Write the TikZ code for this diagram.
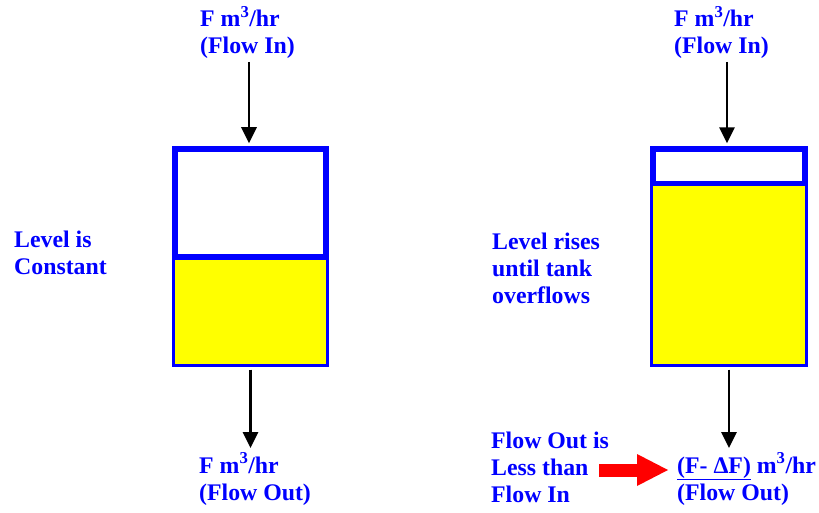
\documentclass[tikz,border=0pt]{standalone}
\usepackage{fontspec}
\setmainfont{Liberation Serif}
\usetikzlibrary{arrows.meta}
\definecolor{pblue}{RGB}{0,0,255}
\definecolor{pyellow}{RGB}{255,255,0}
\definecolor{pred}{RGB}{255,0,0}
\tikzset{
  lbl/.style={text=pblue, font=\bfseries\fontsize{23.8}{27}\selectfont, align=left, inner sep=0pt, anchor=base west},
  tank/.style={draw=pblue, line width=5.8pt, rectangle, inner sep=0pt, minimum width=151.6pt, minimum height=214.7pt},
  tankline/.style={draw=pblue, line width=5.8pt},
  liquid/.style={fill=pyellow},
  flow/.style={draw=black, line width=2.8pt, -{Triangle[width=15pt,length=16pt]}},
  bigarrow/.style={draw=pred, line width=13pt, -{Triangle[width=32pt,length=31pt,line width=0pt]}}
}
\begin{document}
\begin{tikzpicture}[x=1pt,y=1pt]
\useasboundingbox (0,0) rectangle (819,512);
% tanks
\node[tank] (t1) at (250.5,255.65) {};
\node[tank] (t2) at (729,255.5) {};
\coordinate (lv1) at (0,255.3);
\coordinate (lv2) at (0,328.5);
\fill[liquid] ([xshift=2.9pt,yshift=2.9pt]t1.south west) rectangle ([xshift=-2.9pt]t1.east |- lv1);
\fill[liquid] ([xshift=2.9pt,yshift=2.9pt]t2.south west) rectangle ([xshift=-2.9pt]t2.east |- lv2);
\draw[tankline] (t1.west |- lv1) -- (t1.east |- lv1);
\draw[tankline] (t2.west |- lv2) -- (t2.east |- lv2);
% labels (base anchor = baseline of last line)
\node[lbl] (fin1) at (200,458) {F m\textsuperscript{3}/hr\\(Flow In)};
\node[lbl] (fin2) at (674,458) {F m\textsuperscript{3}/hr\\(Flow In)};
\node[lbl] (fout1) at (199,12) {F m\textsuperscript{3}/hr\\(Flow Out)};
\node[lbl] (fout2) at (677,12) {\underline{(F- ΔF)} m\textsuperscript{3}/hr\\(Flow Out)};
\node[lbl] (lvl1) at (14,237) {Level is\\Constant};
\node[lbl] (lvl2) at (492,209) {Level rises\\until tank\\overflows};
\node[lbl] (less) at (491,10) {Flow Out is\\Less than\\Flow In};
% flow arrows
\coordinate (in1) at (249,450);
\coordinate (in2) at (727,450);
\coordinate (out1) at (0,64);
\draw[flow, shorten >=2.9pt] (in1) -- (in1 |- t1.north);
\draw[flow, shorten >=2.9pt] (in2) -- (in2 |- t2.north);
\draw[flow, shorten <=2.9pt] (t1.south) -- (t1.south |- out1);
\draw[flow, shorten <=2.9pt] (t2.south) -- (t2.south |- out1);
% red arrow
\coordinate (ra) at (599,42);
\coordinate (rb) at (668,42);
\draw[bigarrow] (ra) -- (rb);
\end{tikzpicture}
\end{document}
